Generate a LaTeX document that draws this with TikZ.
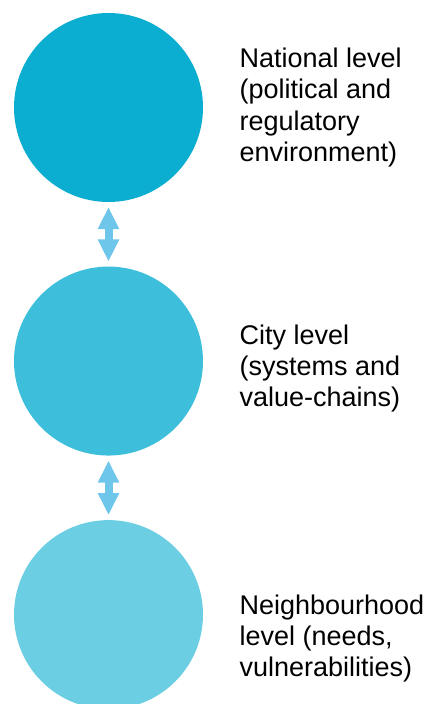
\documentclass[tikz,border=0pt]{standalone}
\usepackage{fontspec}
\setmainfont{Liberation Sans}
\usetikzlibrary{positioning,arrows.meta}

\definecolor{natblue}{HTML}{0BADD0}
\definecolor{cityblue}{HTML}{3DBEDB}
\definecolor{nbhblue}{HTML}{6BCEE3}
\definecolor{arrowblue}{HTML}{6EC6EA}

\tikzset{
  lvl/.style={circle, minimum size=4.725cm, inner sep=0pt},
  lbl/.style={align=left, inner sep=0pt, font=\fontsize{19.2}{22.2}\selectfont},
  link/.style={arrowblue, line width=0.2cm, {Triangle[width=0.5cm,length=0.55cm]}-{Triangle[width=0.5cm,length=0.55cm]}, shorten <=0.12cm, shorten >=0.12cm}
}

\begin{document}
\begin{tikzpicture}

\useasboundingbox (0,0) rectangle (10.625,17.6);

\node[lvl, fill=natblue] (nat) at (2.7125,14.9125) {};
\node[lvl, fill=cityblue, below=1.6cm of nat] (city) {};
\node[lvl, fill=nbhblue, below=1.6cm of city] (nbh) {};

\node[lbl, right=0.9cm of nat] (natlbl) {National level\\(political and\\regulatory\\environment)};
\node[lbl, right=0.9cm of city, yshift=-0.18cm] (citylbl) {City level\\(systems and\\value-chains)};
\node[lbl, right=0.9cm of nbh, yshift=-0.6cm] (nbhlbl) {Neighbourhood\\level (needs,\\vulnerabilities)};

\draw[link] (nat) -- (city);
\draw[link] (city) -- (nbh);

\end{tikzpicture}
\end{document}
